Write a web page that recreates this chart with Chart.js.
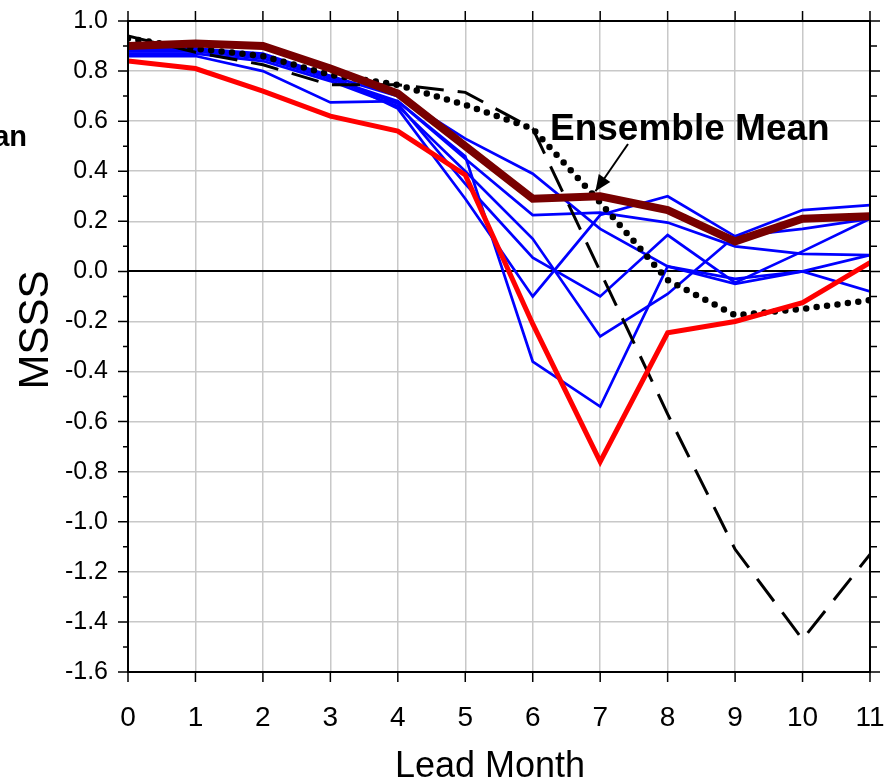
<!DOCTYPE html>
<html>
<head>
<meta charset="utf-8">
<script src="https://cdn.jsdelivr.net/npm/chart.js@4.4.1/dist/chart.umd.min.js"></script>
<style>
  html, body { margin: 0; padding: 0; background: #fff; }
  #wrap { width: 892px; height: 779px; }
</style>
</head>
<body>
<div id="wrap"><canvas id="msss"></canvas></div>
<script>
const leadMonths = [0, 1, 2, 3, 4, 5, 6, 7, 8, 9, 10, 11]

// thick lines
const ensembleMean = [0.90, 0.91, 0.90, 0.81, 0.71, 0.50, 0.29, 0.30, 0.245, 0.12, 0.21, 0.22]
const redModel = [0.84, 0.81, 0.72, 0.62, 0.56, 0.385, -0.21, -0.76, -0.245, -0.20, -0.125, 0.035]

// black reference curves
const dashedRef = [0.94, 0.875, 0.825, 0.745, 0.745, 0.715, 0.57, 0.0, -0.57, -1.11, -1.47, -1.13]
const dottedRef = [0.93, 0.89, 0.86, 0.785, 0.745, 0.665, 0.57, 0.275, -0.035, -0.175, -0.15, -0.115]

// blue members
const member1 = [0.89, 0.89, 0.86, 0.78, 0.70, 0.53, 0.39, 0.17, 0.02, -0.03, 0.00, -0.08]
const member2 = [0.88, 0.88, 0.85, 0.77, 0.68, 0.45, 0.225, 0.235, 0.195, 0.10, 0.07, 0.065]
const member3 = [0.87, 0.87, 0.84, 0.76, 0.66, 0.40, 0.13, -0.26, -0.09, 0.14, 0.17, 0.21]
const member4 = [0.88, 0.88, 0.86, 0.77, 0.67, 0.35, 0.055, -0.10, 0.145, -0.045, 0.08, 0.21]
const member5 = [0.89, 0.89, 0.87, 0.78, 0.65, 0.29, -0.10, 0.225, 0.30, 0.14, 0.245, 0.265]
const member6 = [0.86, 0.86, 0.80, 0.675, 0.68, 0.46, -0.36, -0.54, 0.02, -0.05, 0.00, 0.065]
const members = [member1, member2, member3, member4, member5, member6]

const yMin = -1.6
const yMax = 1.0
const yStep = 0.2

function pts (arr) {
  return arr.map((v, i) => ({ x: leadMonths[i], y: v }))
}

const frameAndText = {
  id: 'frameAndText',
  afterDatasetsDraw (chart) {
    const ctx = chart.ctx
    const xs = chart.scales.x
    const ys = chart.scales.y
    const { left, right, top, bottom } = chart.chartArea
    ctx.save()
    ctx.strokeStyle = '#000'
    ctx.lineWidth = 2
    ctx.strokeRect(left, top, right - left, bottom - top)

    // outward ticks
    ctx.lineWidth = 1.5
    ctx.beginPath()
    leadMonths.forEach((m) => {
      const px = xs.getPixelForValue(m)
      ctx.moveTo(px, bottom); ctx.lineTo(px, bottom + 10)
      ctx.moveTo(px, top); ctx.lineTo(px, top - 10)
    })
    for (let k = 0; k <= 26; k++) {
      const v = yMin + k * 0.1
      const py = ys.getPixelForValue(v)
      const major = k % 2 === 0
      ctx.moveTo(left, py); ctx.lineTo(left - (major ? 10 : 5), py)
      ctx.moveTo(right, py); ctx.lineTo(right + (major ? 10 : 7), py)
    }
    ctx.stroke()

    // axis titles
    ctx.fillStyle = '#000'
    ctx.font = '42px "Liberation Sans", Arial, sans-serif'
    ctx.textAlign = 'center'
    ctx.textBaseline = 'middle'
    ctx.save()
    ctx.translate(36, 330)
    ctx.rotate(-Math.PI / 2)
    ctx.fillText('MSSS', 0, 0)
    ctx.restore()
    ctx.font = '36px "Liberation Sans", Arial, sans-serif'
    ctx.textBaseline = 'alphabetic'
    ctx.fillText('Lead Month', 490, 777)

    // clipped label at far left
    ctx.font = 'bold 29px "Liberation Sans", Arial, sans-serif'
    ctx.textAlign = 'right'
    ctx.fillText('Mean', 27, 146)

    // annotation
    ctx.font = 'bold 37px "Liberation Sans", Arial, sans-serif'
    ctx.textAlign = 'left'
    ctx.fillText('Ensemble Mean', 550, 140)
    const tipX = xs.getPixelForValue(6.93)
    const tipY = ys.getPixelForValue(0.32)
    const x0 = 628
    const y0 = 144
    ctx.lineWidth = 2
    ctx.beginPath()
    ctx.moveTo(x0, y0)
    ctx.lineTo(tipX, tipY)
    ctx.stroke()
    const ang = Math.atan2(tipY - y0, tipX - x0)
    const len = 16
    const half = 7
    ctx.beginPath()
    ctx.moveTo(tipX, tipY)
    ctx.lineTo(tipX - len * Math.cos(ang) + half * Math.sin(ang), tipY - len * Math.sin(ang) - half * Math.cos(ang))
    ctx.lineTo(tipX - len * Math.cos(ang) - half * Math.sin(ang), tipY - len * Math.sin(ang) + half * Math.cos(ang))
    ctx.closePath()
    ctx.fill()
    ctx.restore()
  }
}

const blueSets = members.map((m, i) => ({
  label: 'Member ' + (i + 1),
  data: pts(m),
  borderColor: 'rgb(0, 0, 255)',
  borderWidth: 2.7,
  pointRadius: 0,
  tension: 0
}))

new Chart(document.getElementById('msss').getContext('2d'), {
  type: 'line',
  data: {
    datasets: [
      {
        label: 'Ensemble Mean',
        data: pts(ensembleMean),
        borderColor: 'rgb(120, 0, 0)',
        borderWidth: 8,
        pointRadius: 0,
        tension: 0
      },
      {
        label: 'Red model',
        data: pts(redModel),
        borderColor: 'rgb(255, 0, 0)',
        borderWidth: 5,
        pointRadius: 0,
        tension: 0
      },
      {
        label: 'Dotted reference',
        data: pts(dottedRef),
        borderColor: '#000',
        borderWidth: 6.5,
        borderDash: [0, 10.5],
        borderCapStyle: 'round',
        pointRadius: 0,
        tension: 0
      },
      {
        label: 'Dashed reference',
        data: pts(dashedRef),
        borderColor: '#000',
        borderWidth: 3,
        borderDash: [28, 14],
        pointRadius: 0,
        tension: 0
      },
      ...blueSets
    ]
  },
  options: {
    responsive: true,
    maintainAspectRatio: false,
    animation: false,
    layout: { padding: { left: 0, top: 21, right: 22, bottom: 0 } },
    plugins: {
      legend: { display: false },
      tooltip: { enabled: false }
    },
    scales: {
      x: {
        type: 'linear',
        min: 0,
        max: 11,
        afterFit: (s) => { s.height = 107 },
        border: { display: false },
        grid: {
          color: '#c8c8c8',
          lineWidth: 1.5,
          drawTicks: true,
          tickLength: 29,
          tickColor: 'rgba(0,0,0,0)'
        },
        ticks: {
          stepSize: 1,
          padding: 0,
          color: '#000',
          font: { family: '"Liberation Sans", Arial, sans-serif', size: 28 }
        }
      },
      y: {
        min: yMin,
        max: yMax,
        afterFit: (s) => { s.width = 128 },
        border: { display: false },
        grid: {
          drawTicks: true,
          tickLength: 20,
          tickColor: 'rgba(0,0,0,0)',
          color: (c) => (Math.abs(c.tick.value) < 1e-9 ? '#000' : '#c8c8c8'),
          lineWidth: (c) => (Math.abs(c.tick.value) < 1e-9 ? 2 : 1.5)
        },
        ticks: {
          stepSize: yStep,
          padding: 0,
          color: '#000',
          font: { family: '"Liberation Sans", Arial, sans-serif', size: 25 },
          callback: (v) => (Math.abs(v) < 1e-9 ? '0.0' : v.toFixed(1))
        }
      }
    }
  },
  plugins: [frameAndText]
})
</script>
</body>
</html>
